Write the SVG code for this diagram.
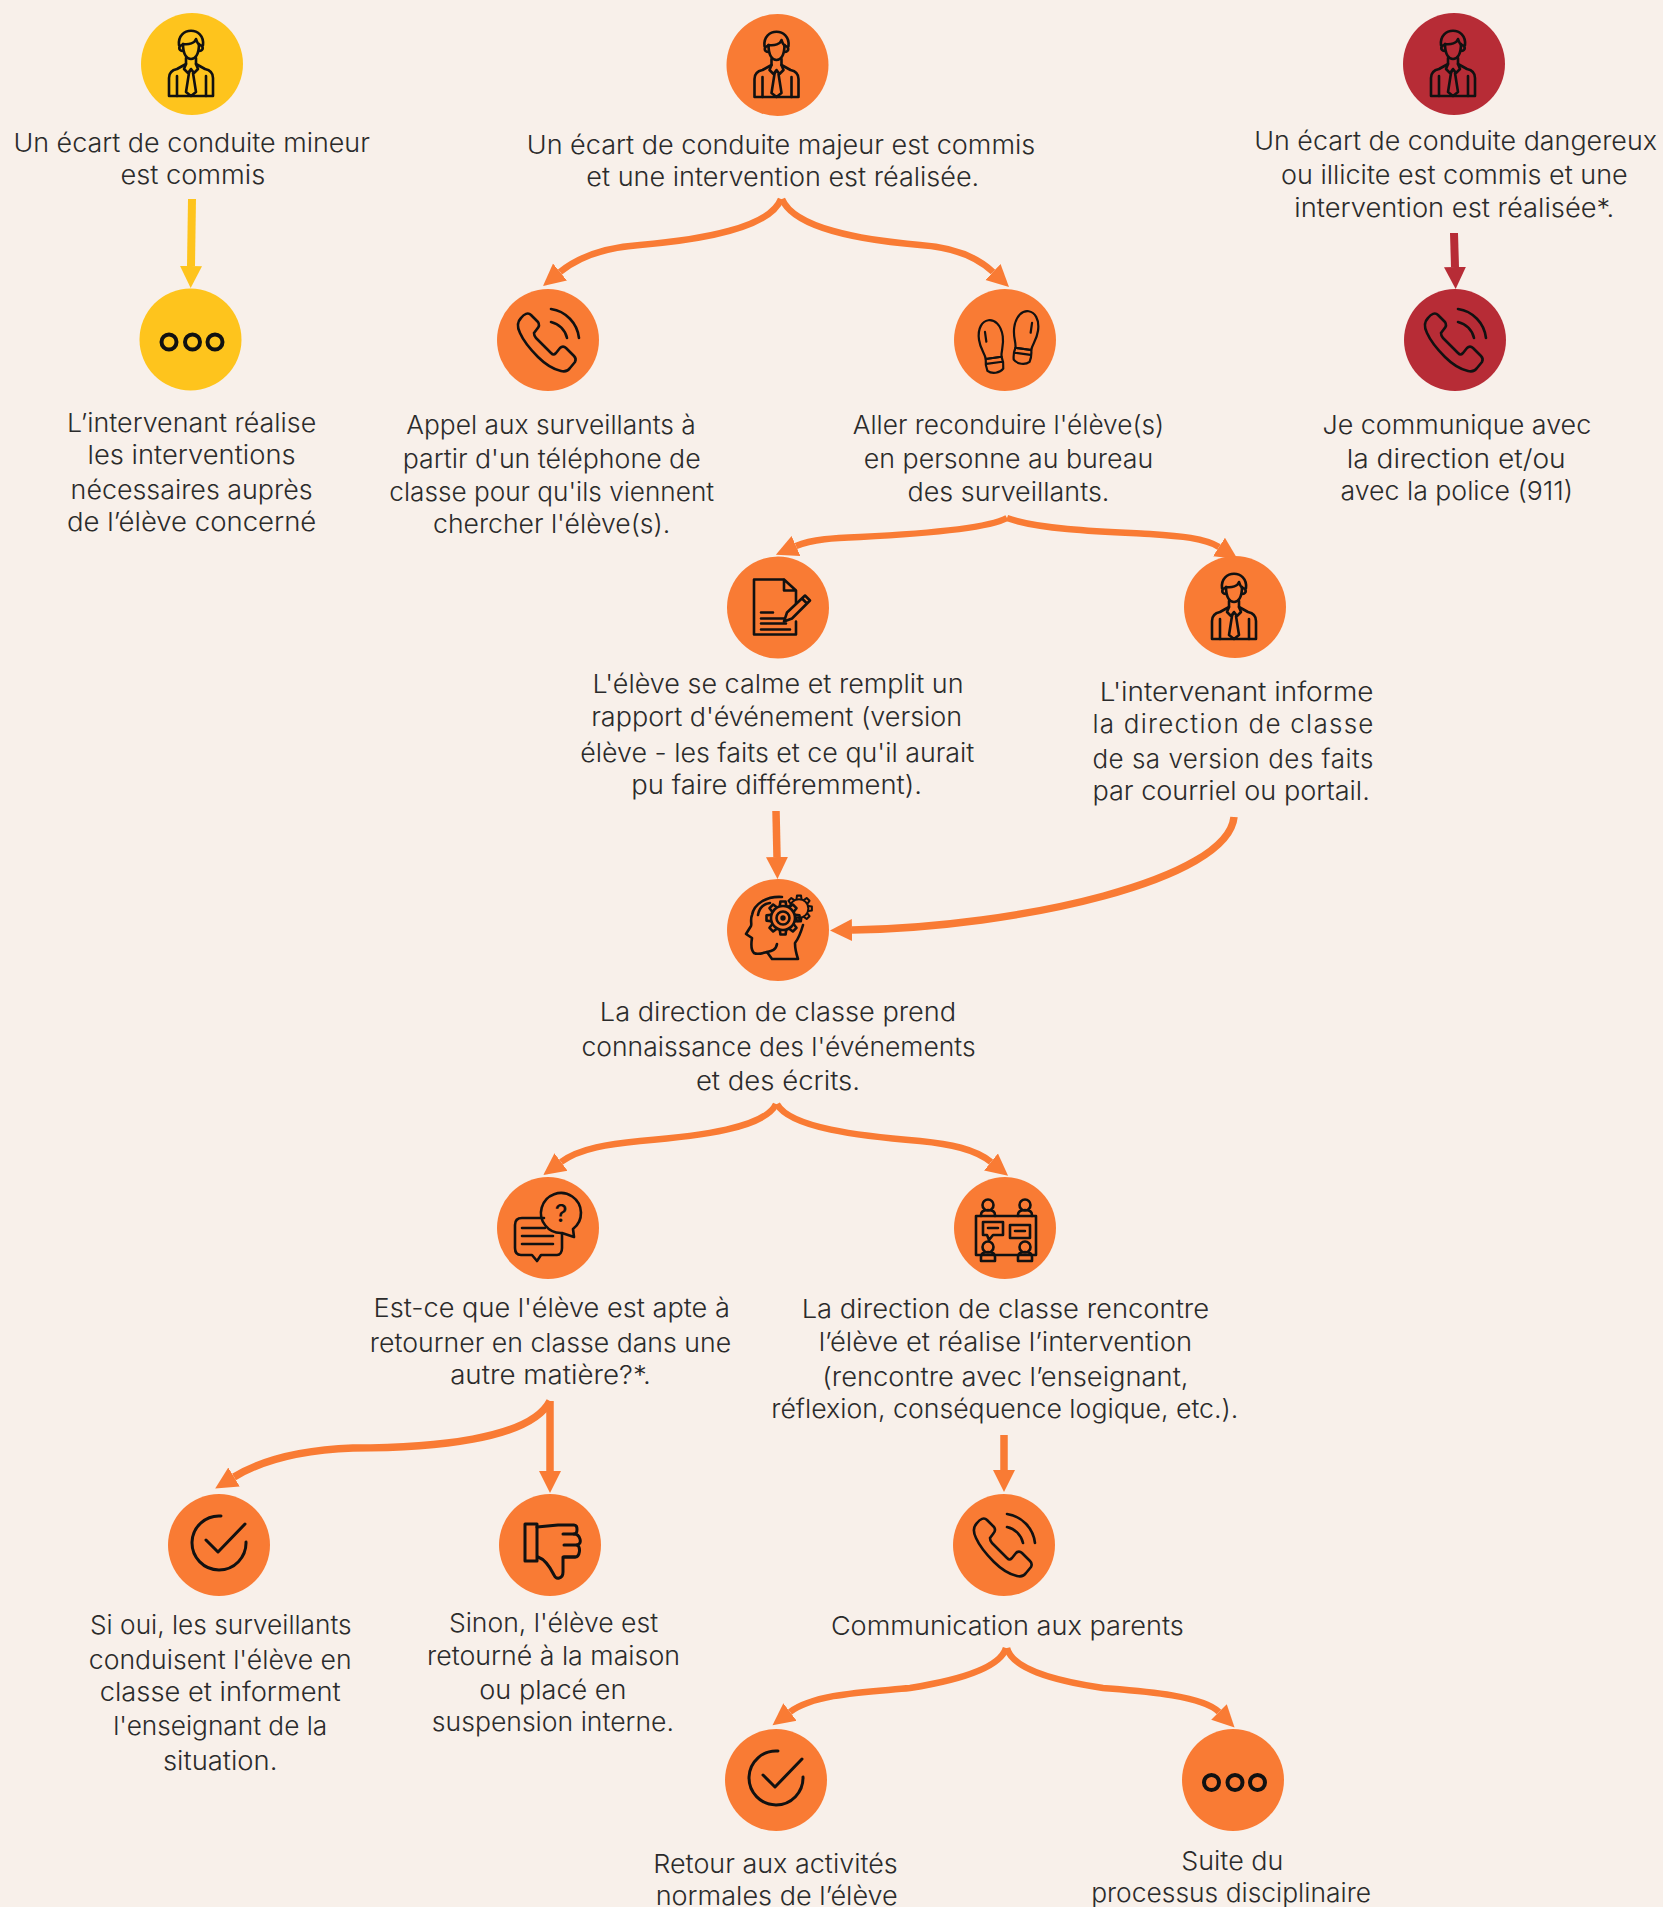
<svg xmlns="http://www.w3.org/2000/svg" width="1663" height="1907" viewBox="0 0 1663 1907">
<style>
text{font-family:"Inter","Liberation Sans",sans-serif;font-weight:300;font-size:26px;fill:#2b2b2b;text-anchor:middle}
.y{fill:#fec41d}.o{fill:#f97b34}.r{fill:#b72c36}
.i{fill:none;stroke:#111;stroke-width:2.6;stroke-linecap:round;stroke-linejoin:round}
.co{fill:none;stroke:#f97b34;stroke-width:6.5}
.cs{fill:none;stroke:#f97b34;stroke-width:7.5}
.cy{fill:none;stroke:#fec41d;stroke-width:8}
.cr{fill:none;stroke:#b72c36;stroke-width:8}
.q{font-size:24px;font-weight:500;fill:#111}
</style>
<defs>
<marker id="ao" markerUnits="userSpaceOnUse" markerWidth="24" markerHeight="24" refX="0" refY="12" orient="auto"><path d="M0,1 L22,12 L0,23z" fill="#f97b34"/></marker>
<marker id="ay" markerUnits="userSpaceOnUse" markerWidth="24" markerHeight="24" refX="0" refY="12" orient="auto"><path d="M0,1 L22,12 L0,23z" fill="#fec41d"/></marker>
<marker id="ar" markerUnits="userSpaceOnUse" markerWidth="24" markerHeight="24" refX="0" refY="12" orient="auto"><path d="M0,1 L22,12 L0,23z" fill="#b72c36"/></marker>
<g id="person" class="i">
<path d="M-13,-19C-15,-38 13,-38 11,-19"/>
<path d="M-9,-20C-9,-9-5,-5-1,-5C3,-5 7,-9 7,-20"/>
<path d="M-9,-20C-3,-19 3,-21 4,-25C5,-22 6,-20 7,-20"/>
<path d="M-9,-19C-14,-19-14,-13-9,-13M7,-19C12,-19 12,-13 7,-13"/>
<path d="M-6,-6V0L-15,5C-20,6-23,9-23,14V32H21V14C21,9 18,6 13,5L4,0V-6"/>
<path d="M-6,0L-8,5L-4,9L-1,5L2,9L6,5L4,0M-1,5L-3,9L-6,28L-1,32L4,28L1,9"/>
<path d="M-15,12V32M14,12V32"/>
</g>
<g id="phone" class="i">
<path d="M-27,-22C-24,-26-20,-28-17,-25L-10,-18C-8,-15-9,-13-11,-11L-14,-7C-14,-5-13,-3-12,-2L3,13C5,15 6,15 8,13L12,8C14,6 16,6 18,8L26,16C28,18 28,20 27,22L22,28C20,31 17,32 13,31C4,29-4,23-10,17C-18,9-24,2-28,-7C-31,-13-31,-18-27,-22Z"/>
<path d="M3,-31A33,33 0 0 1 31,-2M3,-18A21,21 0 0 1 19,-2"/>
</g>
<g id="dots" class="i" style="stroke-width:4">
<circle cx="-21.5" cy="2.5" r="7.5"/><circle cx="2" cy="2.5" r="7.5"/><circle cx="24.5" cy="2.5" r="7.5"/>
</g>
<g id="check" class="i" style="stroke-width:3">
<path d="M2,-29A27,27 0 1 0 27,-3"/><path d="M-13,-5L-1,7L26,-21"/>
</g>
<path id="tooth" d="M-3.2,-12L-2.6,-16.5H2.6L3.2,-12"/>
<g id="teeth"><use href="#tooth"/><use href="#tooth" transform="rotate(45)"/><use href="#tooth" transform="rotate(90)"/><use href="#tooth" transform="rotate(135)"/><use href="#tooth" transform="rotate(180)"/><use href="#tooth" transform="rotate(225)"/><use href="#tooth" transform="rotate(270)"/><use href="#tooth" transform="rotate(315)"/></g>
</defs>
<rect width="1663" height="1907" fill="#f8f0ea"/>
<g id="connectors">
<path class="cy" d="M192,199L191,266" marker-end="url(#ay)"/>
<path class="cr" d="M1454,233L1455,267" marker-end="url(#ar)"/>
<path class="co" d="M781,199C770,228 700,240 640,245C612,247 582,254 560,272" marker-end="url(#ao)"/>
<path class="co" d="M782,199C794,228 860,240 920,245C950,247 975,255 993,272" marker-end="url(#ao)"/>
<path class="co" d="M1007,518C985,530 900,535 860,537C835,538 812,539 796,546" marker-end="url(#ao)"/>
<path class="co" d="M1007,518C1040,530 1110,532 1150,534C1180,536 1205,538 1219,547" marker-end="url(#ao)"/>
<path class="cs" d="M776,811L777,857" marker-end="url(#ao)"/>
<path class="cs" d="M1234,817C1228,880 1020,927 852,930" marker-end="url(#ao)"/>
<path class="co" d="M776,1104C765,1128 700,1136 640,1141C610,1144 580,1148 561,1162" marker-end="url(#ao)"/>
<path class="co" d="M777,1104C790,1128 860,1136 920,1141C950,1144 975,1149 991,1162" marker-end="url(#ao)"/>
<path class="cs" d="M550,1401L550,1471" marker-end="url(#ao)"/>
<path class="cs" d="M550,1401C530,1440 430,1448 353,1448C300,1450 262,1460 234,1477" marker-end="url(#ao)"/>
<path class="cs" d="M1004,1435L1004,1470" marker-end="url(#ao)"/>
<path class="co" d="M1006,1648C1000,1668 960,1680 910,1688C870,1692 815,1693 790,1712" marker-end="url(#ao)"/>
<path class="co" d="M1007,1648C1012,1668 1050,1680 1103,1688C1140,1691 1202,1695 1219,1712" marker-end="url(#ao)"/>
</g>
<g id="n1"><circle class="y" cx="192" cy="64" r="51"/><use href="#person" x="192" y="64"/>
<text x="191.6" y="152.1" textLength="356.4" lengthAdjust="spacingAndGlyphs">Un écart de conduite mineur</text>
<text x="192.8" y="183.7" textLength="144.8" lengthAdjust="spacingAndGlyphs">est commis</text></g>
<g id="n2"><circle class="y" cx="190.5" cy="339.5" r="51"/><use href="#dots" x="190.5" y="339.5"/>
<text x="191.6" y="431.9" textLength="249.4" lengthAdjust="spacingAndGlyphs">L’intervenant réalise</text>
<text x="191.6" y="463.7" textLength="208" lengthAdjust="spacingAndGlyphs">les interventions</text>
<text x="191.6" y="498.8" textLength="242" lengthAdjust="spacingAndGlyphs">nécessaires auprès</text>
<text x="191.6" y="530.6" textLength="249.4" lengthAdjust="spacingAndGlyphs">de l’élève concerné</text></g>
<g id="n3"><circle class="o" cx="777.5" cy="65" r="51"/><use href="#person" x="777.5" y="65"/>
<text x="781" y="153.5" textLength="508.5" lengthAdjust="spacingAndGlyphs">Un écart de conduite majeur est commis</text>
<text x="782.8" y="186.1" textLength="392.9" lengthAdjust="spacingAndGlyphs">et une intervention est réalisée.</text></g>
<g id="n4"><circle class="r" cx="1454" cy="64" r="51"/><use href="#person" x="1454" y="64"/>
<text x="1455.6" y="149.6" textLength="402.7" lengthAdjust="spacingAndGlyphs">Un écart de conduite dangereux</text>
<text x="1454.3" y="183.7" textLength="346.7" lengthAdjust="spacingAndGlyphs">ou illicite est commis et une</text>
<text x="1454.3" y="216.8" textLength="319.9" lengthAdjust="spacingAndGlyphs">intervention est réalisée*.</text></g>
<g id="n5"><circle class="r" cx="1455" cy="340" r="51"/><use href="#phone" x="1455" y="340"/>
<text x="1456.8" y="434.3" textLength="268.8" lengthAdjust="spacingAndGlyphs">Je communique avec</text>
<text x="1456.2" y="468.3" textLength="219" lengthAdjust="spacingAndGlyphs">la direction et/ou</text>
<text x="1456.8" y="500" textLength="232.4" lengthAdjust="spacingAndGlyphs">avec la police (911)</text></g>
<g id="n6"><circle class="o" cx="548" cy="340" r="51"/><use href="#phone" x="548" y="340"/>
<text x="551" y="434.3" textLength="289.5" lengthAdjust="spacingAndGlyphs">Appel aux surveillants à</text>
<text x="551.7" y="468.3" textLength="298" lengthAdjust="spacingAndGlyphs">partir d'un téléphone de</text>
<text x="551.7" y="501.2" textLength="324.8" lengthAdjust="spacingAndGlyphs">classe pour qu'ils viennent</text>
<text x="551.7" y="532.8" textLength="237.2" lengthAdjust="spacingAndGlyphs">chercher l'élève(s).</text></g>
<g id="n7"><circle class="o" cx="1005" cy="340" r="51"/>
<g class="i" transform="translate(1005,340)" style="stroke-width:2.2">
<g transform="translate(-13,6) rotate(-8)"><path d="M-12,-8C-12,-32 12,-32 12,-8C12,2 8,6 8,12H-8C-8,6-12,2-12,-8Z"/><path d="M-8,12H8C9,16 9,20 8,24C4,28-4,28-8,24C-9,20-9,16-8,12ZM-8,17H8M-5,-15V-5"/></g>
<g transform="translate(20,-3) rotate(8)"><path d="M-12,-8C-12,-32 12,-32 12,-8C12,2 8,6 8,12H-8C-8,6-12,2-12,-8Z"/><path d="M-8,12H8C9,16 9,20 8,24C4,28-4,28-8,24C-9,20-9,16-8,12ZM-8,17H8M5,-15V-5"/></g>
</g>
<text x="1008.5" y="434.3" textLength="311.4" lengthAdjust="spacingAndGlyphs">Aller reconduire l'élève(s)</text>
<text x="1008.5" y="468.3" textLength="289.5" lengthAdjust="spacingAndGlyphs">en personne au bureau</text>
<text x="1008.5" y="501.2" textLength="201.9" lengthAdjust="spacingAndGlyphs">des surveillants.</text></g>
<g id="n8"><circle class="o" cx="778" cy="607.5" r="51"/>
<g class="i" transform="translate(778,607.5)">
<path d="M6,-28H-24V27H18V14M18,-4V-17L6,-28V-17H18"/>
<path d="M-17,5H-5M-17,11H6M-17,16H8M-17,22H12"/>
<path d="M6,14L9,5L27,-12L32,-7L14,11ZM24,-9L29,-4"/>
</g>
<text x="778" y="693.4" textLength="371" lengthAdjust="spacingAndGlyphs">L'élève se calme et remplit un</text>
<text x="776.7" y="726.3" textLength="371" lengthAdjust="spacingAndGlyphs">rapport d'événement (version</text>
<text x="777.3" y="761.5" textLength="394.1" lengthAdjust="spacingAndGlyphs">élève - les faits et ce qu'il aurait</text>
<text x="776.7" y="794.4" textLength="290.7" lengthAdjust="spacingAndGlyphs">pu faire différemment).</text></g>
<g id="n9"><circle class="o" cx="1235" cy="607" r="51"/><use href="#person" x="1235" y="607"/>
<text x="1236.6" y="700.7" textLength="273.7" lengthAdjust="spacingAndGlyphs">L'intervenant informe</text>
<text x="1232.9" y="732.5" textLength="281" lengthAdjust="spacing">la direction de classe</text>
<text x="1232.9" y="767.6" textLength="281" lengthAdjust="spacing">de sa version des faits</text>
<text x="1231.1" y="800.4" textLength="277.4" lengthAdjust="spacingAndGlyphs">par courriel ou portail.</text></g>
<g id="n10"><circle class="o" cx="778" cy="930" r="51"/>
<g class="i" transform="translate(778,930)">
<path d="M4,-33C-12,-34-24,-26-26,-15C-28,-10-26,-6-27,-4L-32,4L-26,8C-27,14-27,20-24,23C-20,25-15,23-11,22L-6,29H20C18,23 17,18 17,13C21,8 23,2 25,-5"/>
<path d="M-20,-15C-19,-21-15,-26-8,-27"/>
<path d="M-11,22C-6,21-2,20-1,14"/>
<g transform="translate(21,-21.5) scale(.78)"><use href="#teeth"/><circle r="12" fill="#f97b34"/></g>
<g transform="translate(5,-12)"><use href="#teeth"/><circle r="12" fill="#f97b34"/><circle r="6.5"/><circle r="1.4"/></g>
</g>
<text x="778" y="1020.9" textLength="356.4" lengthAdjust="spacingAndGlyphs">La direction de classe prend</text>
<text x="778.6" y="1055.9" textLength="394.1" lengthAdjust="spacingAndGlyphs">connaissance des l'événements</text>
<text x="778" y="1090" textLength="164.2" lengthAdjust="spacingAndGlyphs">et des écrits.</text></g>
<g id="n11"><circle class="o" cx="548" cy="1228" r="51"/>
<g class="i" transform="translate(548,1228)">
<path d="M25,1A20,20 0 1 0 14,5L26,9Z"/>
<path d="M-4,-10H-26C-31,-10-33,-7-33,-3V20C-33,24-31,27-27,27H-16L-11,33L-7,27H9C12,27 14,24 14,20V6"/>
<path d="M-26,0H-3M-26,8H5M-26,16H5"/>
<text class="q" x="13" y="-6" style="stroke:none">?</text>
</g>
<text x="551.7" y="1316.5" textLength="356.4" lengthAdjust="spacingAndGlyphs">Est-ce que l'élève est apte à</text>
<text x="550.5" y="1351.5" textLength="361.3" lengthAdjust="spacingAndGlyphs">retourner en classe dans une</text>
<text x="550.5" y="1384.4" textLength="200.7" lengthAdjust="spacingAndGlyphs">autre matière?*.</text></g>
<g id="n12"><circle class="o" cx="1005" cy="1228" r="51"/>
<g class="i" transform="translate(1005,1228)">
<path d="M-29,-12H31V27H-29Z"/>
<circle cx="-17" cy="-23" r="5.5"/><circle cx="20" cy="-23" r="5.5"/>
<path d="M-24,-12V-13C-24,-16-22,-18-17,-18C-12,-18-10,-16-10,-13V-12M13,-12V-13C13,-16 15,-18 20,-18C25,-18 27,-16 27,-13V-12"/>
<circle cx="-17" cy="19" r="5.5"/><circle cx="20" cy="19" r="5.5"/>
<path d="M-24,33V29C-24,26-22,24-17,24C-12,24-10,26-10,29V33ZM13,33V29C13,26 15,24 20,24C25,24 27,26 27,29V33Z"/>
<path d="M-22,-6H-2V7H-12L-16,12L-18,7H-22ZM5,-3H25V10H5ZM-17,0H-7M10,3H20"/>
</g>
<text x="1005.4" y="1317.7" textLength="407.5" lengthAdjust="spacingAndGlyphs">La direction de classe rencontre</text>
<text x="1005.4" y="1350.5" textLength="373.5" lengthAdjust="spacingAndGlyphs">l’élève et réalise l’intervention</text>
<text x="1005.4" y="1385.6" textLength="366.2" lengthAdjust="spacingAndGlyphs">(rencontre avec l’enseignant,</text>
<text x="1004.8" y="1418.4" textLength="467.1" lengthAdjust="spacingAndGlyphs">réflexion, conséquence logique, etc.).</text></g>
<g id="n13"><circle class="o" cx="219" cy="1545" r="51"/><use href="#check" x="219" y="1545"/>
<text x="220.8" y="1633.9" textLength="261.5" lengthAdjust="spacingAndGlyphs">Si oui, les surveillants</text>
<text x="220.2" y="1669" textLength="262.8" lengthAdjust="spacingAndGlyphs">conduisent l'élève en</text>
<text x="220.2" y="1700.9" textLength="240.9" lengthAdjust="spacingAndGlyphs">classe et informent</text>
<text x="220.2" y="1735" textLength="214.1" lengthAdjust="spacingAndGlyphs">l'enseignant de la</text>
<text x="220.2" y="1770" textLength="114.4" lengthAdjust="spacingAndGlyphs">situation.</text></g>
<g id="n14"><circle class="o" cx="550" cy="1545" r="51"/>
<g class="i" transform="translate(550,1545)" style="stroke-width:3">
<path d="M-25,-21H-13V16H-25Z"/>
<path d="M-13,-18L8,-20H24C28,-20 28,-11 24,-11C30,-11 33,-1 27,0C31,2 30,12 25,12H13V27C13,34 6,35 4,30C0,22-6,14-12,12"/>
<path d="M13,-11H24M14,0H27M14,12H25"/>
</g>
<text x="553.5" y="1631.5" textLength="209.2" lengthAdjust="spacingAndGlyphs">Sinon, l'élève est</text>
<text x="553.5" y="1665.4" textLength="253" lengthAdjust="spacingAndGlyphs">retourné à la maison</text>
<text x="552.9" y="1698.5" textLength="147.2" lengthAdjust="spacingAndGlyphs">ou placé en</text>
<text x="552.9" y="1731.1" textLength="242.1" lengthAdjust="spacingAndGlyphs">suspension interne.</text></g>
<g id="n15"><circle class="o" cx="1004" cy="1545" r="51"/><use href="#phone" x="1004" y="1545"/>
<text x="1007.3" y="1634.9" textLength="352.8" lengthAdjust="spacingAndGlyphs">Communication aux parents</text></g>
<g id="n16"><circle class="o" cx="776" cy="1780" r="51"/><use href="#check" x="776" y="1780"/>
<text x="775.5" y="1873.4" textLength="244.5" lengthAdjust="spacingAndGlyphs">Retour aux activités</text>
<text x="776.7" y="1904.5" textLength="242.1" lengthAdjust="spacingAndGlyphs">normales de l’élève</text></g>
<g id="n17"><circle class="o" cx="1233" cy="1780" r="51"/><use href="#dots" x="1233" y="1780"/>
<text x="1232.3" y="1870" textLength="102.2" lengthAdjust="spacingAndGlyphs">Suite du</text>
<text x="1231.1" y="1901.6" textLength="279.8" lengthAdjust="spacingAndGlyphs">processus disciplinaire</text></g>
</svg>
